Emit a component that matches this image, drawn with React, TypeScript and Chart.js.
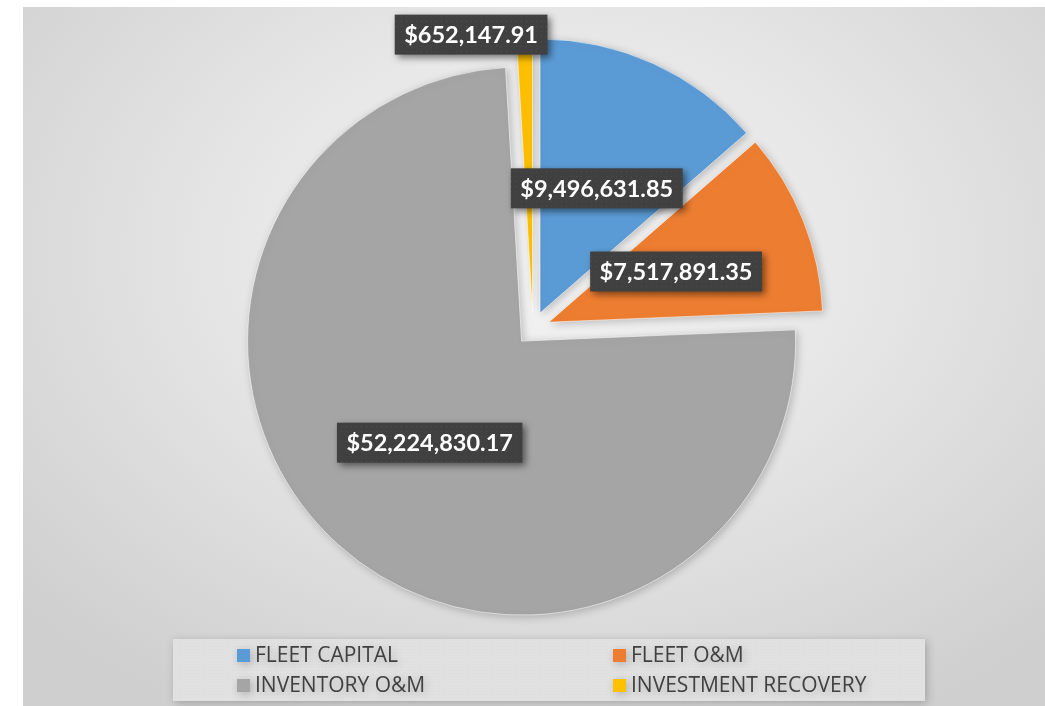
import React, { useEffect, useRef } from "react";
import { Chart, registerables } from "chart.js";

Chart.register(...registerables);

// ---- data ----
const categories = ["FLEET CAPITAL", "FLEET O&M", "INVENTORY O&M", "INVESTMENT RECOVERY"];
const amounts = [9496631.85, 7517891.35, 52224830.17, 652147.91];
const sliceColors = ["#5B9BD5", "#ED7D31", "#A5A5A5", "#FFC000"];
const labelPlacement = ["inside", "inside", "inside", "outside"];

const EXPLODE = 17;
const RADIUS = 274;

function fmt(v: number): string {
  return "$" + v.toLocaleString("en-US", { minimumFractionDigits: 2, maximumFractionDigits: 2 });
}

function makePattern(ctx: CanvasRenderingContext2D, base: string, dot: string, step: number) {
  const c = document.createElement("canvas");
  c.width = step;
  c.height = step;
  const p = c.getContext("2d")!;
  p.fillStyle = base;
  p.fillRect(0, 0, step, step);
  p.fillStyle = dot;
  p.fillRect(1, 1, 1, 1);
  return ctx.createPattern(c, "repeat")!;
}

const explodePlugin = {
  id: "explode",
  afterDatasetsUpdate(chart: any) {
    const meta = chart.getDatasetMeta(0);
    meta.data.forEach((arc: any) => {
      const half = (arc.startAngle + arc.endAngle) / 2;
      arc.x += Math.cos(half) * EXPLODE;
      arc.y += Math.sin(half) * EXPLODE;
    });
  },
  beforeDatasetsDraw(chart: any) {
    const ctx = chart.ctx;
    ctx.save();
    ctx.shadowColor = "rgba(0,0,0,0.22)";
    ctx.shadowBlur = 9;
    ctx.shadowOffsetX = 2;
    ctx.shadowOffsetY = 2;
  },
  afterDatasetsDraw(chart: any) {
    chart.ctx.restore();
  },
};

const legendPlugin = {
  id: "gridLegend",
  beforeDatasetsDraw(chart: any) {
    const ctx: CanvasRenderingContext2D = chart.ctx;
    ctx.save();
    ctx.fillStyle = makePattern(ctx, "#e1e1e1", "#dcdcdc", 3);
    ctx.fillRect(173, 639, 752, 62);
    ctx.font = "21px 'Open Sans'";
    ctx.textBaseline = "middle";
    ctx.textAlign = "left";
    const colX = [237, 613];
    const rowY = [655, 685];
    categories.forEach((name, i) => {
      const x = colX[i % 2];
      const y = rowY[Math.floor(i / 2)];
      ctx.fillStyle = sliceColors[i];
      ctx.fillRect(x, y - 6, 13, 13);
      ctx.fillStyle = "#404040";
      ctx.fillText(name, x + 18, y + 1);
    });
    ctx.restore();
  },
};

const labelPlugin = {
  id: "boxLabels",
  afterDraw(chart: any) {
    const ctx: CanvasRenderingContext2D = chart.ctx;
    const meta = chart.getDatasetMeta(0);
    const pat = makePattern(ctx, "#404040", "#4c4c4c", 5);
    meta.data.forEach((arc: any, i: number) => {
      const half = (arc.startAngle + arc.endAngle) / 2;
      const r = arc.outerRadius;
      ctx.save();
      ctx.font = "bold 23.5px Lato";
      const text = fmt(amounts[i]);
      const tw = ctx.measureText(text).width;
      const bw = tw + 19;
      const bh = 40;
      let cx: number, cy: number;
      if (labelPlacement[i] === "inside") {
        cx = arc.x + Math.cos(half) * r * 0.5;
        cy = arc.y + Math.sin(half) * r * 0.5;
      } else {
        const ox = arc.x + Math.cos(half) * r;
        const oy = arc.y + Math.sin(half) * r;
        cx = ox + 23 - bw / 2;
        cy = oy - 3;
      }
      ctx.shadowColor = "rgba(0,0,0,0.5)";
      ctx.shadowBlur = 7;
      ctx.shadowOffsetX = 3;
      ctx.shadowOffsetY = 3;
      ctx.fillStyle = pat;
      ctx.fillRect(cx - bw / 2, cy - bh / 2, bw, bh);
      ctx.shadowColor = "transparent";
      ctx.shadowBlur = 0;
      ctx.shadowOffsetX = 0;
      ctx.shadowOffsetY = 0;
      ctx.fillStyle = "#ffffff";
      ctx.textAlign = "center";
      ctx.textBaseline = "middle";
      ctx.fillText(text, cx, cy + 1);
      ctx.restore();
    });
  },
};

export default function App() {
  const ref = useRef<HTMLCanvasElement>(null);
  useEffect(() => {
    if (!ref.current) return;
    const chart = new Chart(ref.current, {
      type: "pie",
      data: {
        labels: categories,
        datasets: [
          {
            data: amounts,
            backgroundColor: sliceColors,
            borderColor: "rgba(255,255,255,0.55)",
            borderWidth: 1,
          },
        ],
      },
      options: {
        responsive: false,
        animation: false,
        radius: RADIUS,
        layout: { padding: { left: 21, right: 0, top: 0, bottom: 49 } },
        plugins: {
          legend: { display: false },
          tooltip: { enabled: false },
          title: { display: false },
        },
      } as any,
      plugins: [explodePlugin, legendPlugin, labelPlugin],
    });
    return () => chart.destroy();
  }, []);

  return (
    <div>
      <div
        style={{
          position: "absolute",
          left: 23,
          top: 7,
          width: 1022,
          height: 699,
          background:
            "radial-gradient(ellipse 70% 75% at 52% 35%, #f4f4f4 0%, #e6e6e6 45%, #cfcfcf 100%)",
        }}
      />
      <canvas
        ref={ref}
        width={1045}
        height={706}
        style={{ position: "absolute", left: 0, top: 0, width: 1045, height: 706 }}
      />
    </div>
  );
}
